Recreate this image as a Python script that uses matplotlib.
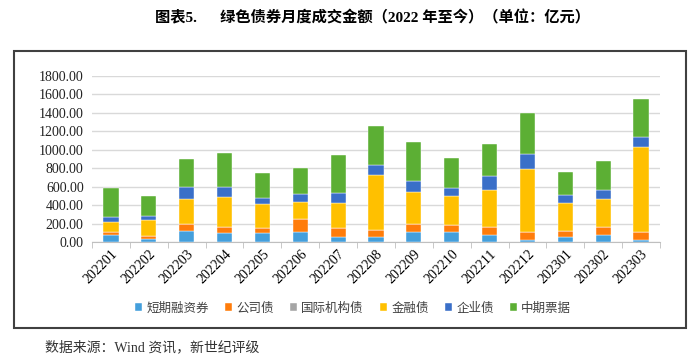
import matplotlib.pyplot as plt
import numpy as np
from matplotlib.patches import Rectangle

plt.rcParams['font.serif'] = ['Liberation Serif', 'Times New Roman', 'DejaVu Serif']
plt.rcParams['font.family'] = ['serif', 'Noto Sans CJK SC']

months = ['202201', '202202', '202203', '202204', '202205', '202206', '202207', '202208',
          '202209', '202210', '202211', '202212', '202301', '202302', '202303']

# segment values
short_term = [76, 33, 116, 94, 94, 108, 54, 58, 108, 112, 80, 25, 54, 80, 25]
corporate = [32, 32, 83, 65, 58, 141, 98, 76, 84, 69, 83, 83, 62, 79, 87]
intl_org = [0, 0, 0, 0, 0, 0, 0, 0, 0, 0, 0, 0, 0, 0, 0]
financial = [105, 174, 271, 333, 256, 185, 275, 589, 354, 314, 405, 684, 303, 304, 917]
enterprise = [62, 47, 126, 101, 66, 90, 104, 116, 112, 94, 148, 166, 91, 101, 105]
mtn = [314, 213, 308, 376, 278, 275, 409, 423, 430, 318, 347, 437, 249, 311, 418]

series = [
    ('短期融资券', short_term, '#449fdc'),
    ('公司债', corporate, '#ff7c0a'),
    ('国际机构债', intl_org, '#a5a5a5'),
    ('金融债', financial, '#ffc000'),
    ('企业债', enterprise, '#3a6fc8'),
    ('中期票据', mtn, '#5caf34'),
]

fig = plt.figure(figsize=(7, 3.63), dpi=100)
fig.patches.append(Rectangle((14 / 700, 1 - 328 / 363), 672 / 700, 277 / 363,
                             transform=fig.transFigure, fill=False,
                             edgecolor='#404040', linewidth=1.5))

ax = fig.add_axes([92 / 700, 1 - 242 / 363, 568 / 700, 166 / 363])
x = np.arange(len(months))
bottom = np.zeros(len(months))
for name, vals, col in series:
    ax.bar(x, vals, width=0.4, bottom=bottom, color=col, label=name,
           edgecolor='white', linewidth=0.3, zorder=3)
    bottom += np.array(vals)

ax.set_ylim(0, 1800)
ax.set_xlim(-0.5, len(months) - 0.5)
ax.set_yticks(np.arange(0, 1801, 200))
ax.set_yticklabels([f'{v:.2f}' for v in np.arange(0, 1801, 200)], fontsize=10, color='#222222')
ax.yaxis.grid(True, color='#d9d9d9', linewidth=1, zorder=0)
ax.tick_params(axis='y', length=0, pad=6)
for s in ['top', 'right', 'left']:
    ax.spines[s].set_visible(False)
ax.spines['bottom'].set_color('#bfbfbf')

ax.set_xticks(x)
ax.set_xticklabels(months, rotation=45, ha='right', rotation_mode='anchor', fontsize=10)
ax.tick_params(axis='x', length=0, pad=4)
ax.set_xticks(np.arange(-0.5, len(months), 1), minor=True)
ax.tick_params(axis='x', which='minor', length=4, color='#bfbfbf')

leg = fig.legend(loc='center', bbox_to_anchor=(353 / 700, 1 - 308 / 363), ncol=6,
                 frameon=False, handlelength=0.6, handleheight=0.6, handletextpad=0.3,
                 columnspacing=1.3, prop={'family': ['Noto Sans CJK SC'], 'size': 9})
for t in leg.get_texts():
    t.set_color('#404040')

fig.text(372 / 700, 1 - 18 / 363, '图表5.      绿色债券月度成交金额（2022 年至今）（单位：亿元）',
         ha='center', va='center', fontsize=11, fontweight='bold',
         family=['serif', 'Noto Sans CJK SC'])
fig.text(45 / 700, 1 - 347 / 363, '数据来源：Wind 资讯，新世纪评级',
         ha='left', va='center', fontsize=10, color='#333333',
         family=['serif', 'Noto Sans CJK SC'])

fig.savefig('out.png', dpi=100)
